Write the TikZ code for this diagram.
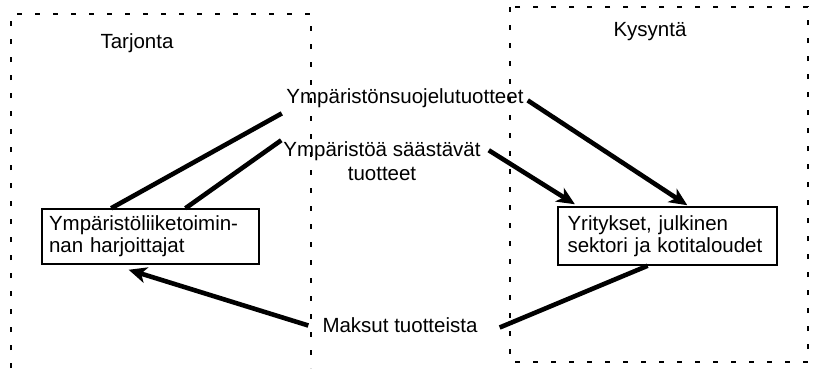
\documentclass[tikz,border=0pt]{standalone}
\usepackage{fontspec}
\setmainfont{Liberation Sans}
\usetikzlibrary{arrows.meta,calc}
\begin{document}
\begin{tikzpicture}[x=1pt,y=-1pt,
  every node/.style={font=\fontsize{20.5}{22}\selectfont},
  region/.style={line width=1.3pt, dash pattern=on 5pt off 13pt},
  actor/.style={draw, line width=1.5pt, align=left},
  lbl/.style={inner sep=2pt, align=center},
  flow/.style={line width=4.6pt},
  flowarrow/.style={flow, -{Stealth[length=18pt,width=16pt,inset=5pt]}}]
\useasboundingbox (0,0) rectangle (815,368);
% regions
\draw[region] (11,368) -- (11,14) -- (311,14) -- (311,368);
\draw[region] (510,7) rectangle (808,362);
\node (tar) at (137,43) {Tarjonta};
\node (kys) at (650,32) {Kysyntä};
% actors
\node[actor, text width=203pt, inner xsep=7pt, minimum height=55pt] (ln) at (150.5,236.5)
  {Ympäristöliiketoimin-\\nan harjoittajat};
\node[actor, text width=200pt, inner xsep=9.5pt, minimum height=58pt] (rn) at (667.5,236)
  {Yritykset, julkinen\\sektori ja kotitaloudet};
% flow labels
\node[lbl] (l1) at (405,98.4) {Ympäristönsuojelutuotteet};
\node[lbl, font=\fontsize{20.5}{24}\selectfont] (l2) at (382,161) {Ympäristöä säästävät\\tuotteet};
\node[lbl] (mk) at (400,325.5) {Maksut tuotteista};
% flows
\draw[flow] ($(ln.north west)!0.32!(ln.north east)$) -- ($(l1.west)+(-2.5,15)$);
\draw[flow] ($(ln.north west)!0.66!(ln.north east)$) -- ($(l2.north west)+(0,1)$);
\draw[flowarrow] ($(l1.east)+(2,2)$) -- ($(rn.north west)!0.59!(rn.north east)+(0,-1)$);
\draw[flowarrow] ($(l2.north east)+(6,11)$) -- ($(rn.north west)!0.08!(rn.north east)+(0,-2)$);
\draw[flow] ($(rn.south west)!0.41!(rn.south east)$) -- ($(mk.east)+(20,2)$);
\draw[flowarrow] ($(mk.west)+(-12,0)$) -- ($(ln.south west)!0.40!(ln.south east)+(0,5)$);
\end{tikzpicture}
\end{document}
